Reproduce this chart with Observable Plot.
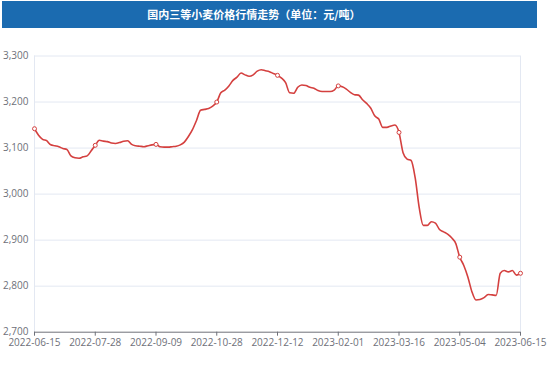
<!DOCTYPE html>
<html>
<head>
<meta charset="utf-8">
<script src="https://cdn.jsdelivr.net/npm/d3@7"></script>
<script src="https://cdn.jsdelivr.net/npm/@observablehq/plot@0.6"></script>
<style>
  html, body { margin: 0; padding: 0; background: #fff; }
  #wrap { position: relative; width: 554px; height: 369px; overflow: hidden; }
  #title {
    position: absolute; left: 2px; top: 1px; width: 535px; height: 27px;
    background: #1b6bb0; color: #fff; font: bold 11px "Noto Sans CJK SC", sans-serif;
    line-height: 27px; text-align: center; box-sizing: border-box; padding-right: 31px;
  }
  #chart { position: absolute; left: 0; top: 0; }
</style>
</head>
<body>
<div id="wrap">
  <div id="chart"></div>
  <div id="title">国内三等小麦价格行情走势（单位：元/吨）</div>
</div>
<script>
const prices = [
  3142, 3128, 3119, 3116, 3107, 3105, 3103, 3099, 3097, 3083,
  3079, 3078, 3081, 3083, 3094, 3106, 3117, 3115, 3114, 3111,
  3110, 3112, 3115, 3116, 3108, 3105, 3104, 3103, 3105, 3107,
  3108, 3103, 3102, 3102, 3103, 3104, 3107, 3113, 3125, 3140,
  3160, 3182, 3184, 3186, 3191, 3200, 3220, 3226, 3235, 3247,
  3254, 3263, 3259, 3256, 3259, 3267, 3270, 3268, 3266, 3262,
  3258, 3252, 3242, 3220, 3219, 3232, 3237, 3236, 3232, 3230,
  3225, 3223, 3223, 3223, 3226, 3235, 3233, 3228, 3221, 3216,
  3215, 3205, 3197, 3187, 3170, 3163, 3145, 3145, 3148, 3150,
  3134, 3090, 3076, 3073, 3035, 2970, 2932, 2932, 2940, 2937,
  2923, 2918, 2913, 2905, 2893, 2863, 2845, 2820, 2788, 2770,
  2771, 2775, 2782, 2781, 2780, 2828, 2834, 2831, 2834, 2824,
  2828
];

const tickLabels = ["2022-06-15", "2022-07-28", "2022-09-09", "2022-10-28", "2022-12-12",
                    "2023-02-01", "2023-03-16", "2023-05-04", "2023-06-15"];
const tickIndex = [0, 15, 30, 45, 60, 75, 90, 105, 120];
const yTicks = [2700, 2800, 2900, 3000, 3100, 3200, 3300];

const data = prices.map((v, i) => ({i, v}));
const markerData = tickIndex.map(i => ({i, v: prices[i]}));

const lineColor = "#d4403f";
const axisColor = "#6e7079";
const gridColor = "#e3e8f2";

const chart = Plot.plot({
  width: 554,
  height: 369,
  marginTop: 55.5,
  marginBottom: 37.3,
  marginLeft: 34,
  marginRight: 34,
  style: {fontFamily: "'Open Sans', 'Noto Sans', sans-serif", background: "transparent"},
  x: {domain: [0, 120], axis: null, label: null},
  y: {domain: [2700, 3300], axis: null, label: null},
  marks: [
    Plot.ruleY(yTicks.slice(1), {stroke: gridColor, strokeWidth: 1}),
    Plot.ruleX([0, 120], {stroke: gridColor, strokeWidth: 1}),
    Plot.ruleY([2700], {stroke: axisColor, strokeWidth: 1}),
    Plot.axisX(tickIndex, {
      tickFormat: (d) => tickLabels[tickIndex.indexOf(d)],
      tickSize: 4, tickPadding: 3, fontSize: 10, color: axisColor, label: null
    }),
    Plot.axisY(yTicks, {
      tickFormat: d3.format(","), tickSize: 0, tickPadding: 6, fontSize: 10, color: axisColor, label: null
    }),
    Plot.line(data, {x: "i", y: "v", curve: "monotone-x", stroke: lineColor, strokeWidth: 1.6}),
    Plot.dot(markerData, {x: "i", y: "v", r: 2, stroke: lineColor, fill: "#fff", strokeWidth: 1})
  ]
});
document.getElementById("chart").appendChild(chart);
</script>
</body>
</html>
